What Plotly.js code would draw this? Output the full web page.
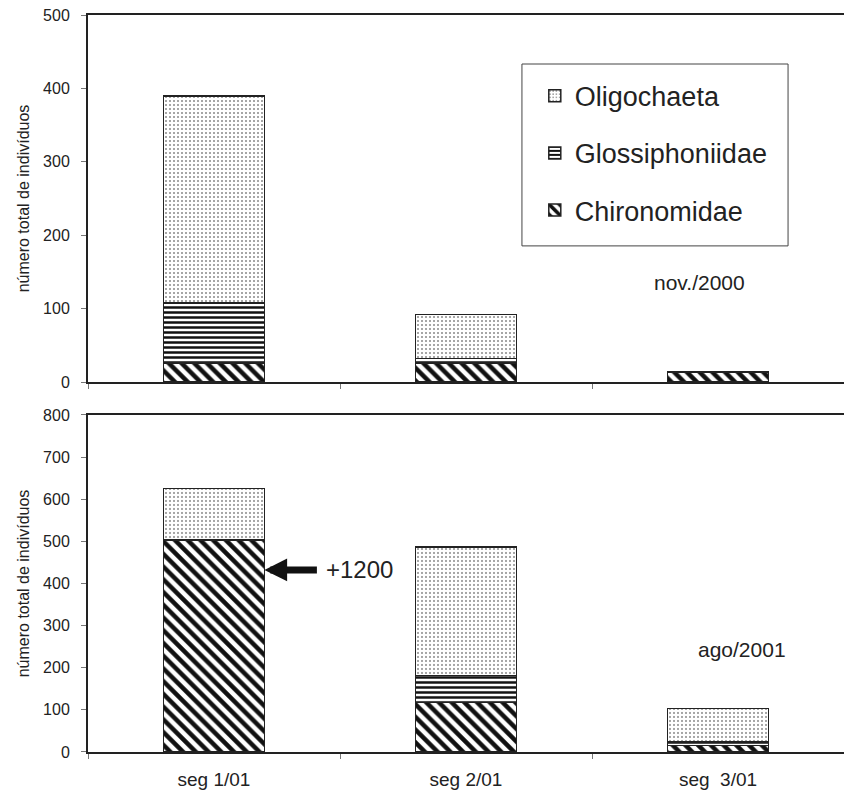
<!DOCTYPE html>
<html>
<head>
<meta charset="utf-8">
<script src="https://cdn.plot.ly/plotly-3.0.1.min.js"></script>
<style>html,body{margin:0;padding:0;background:#fff;}#chart{width:844px;height:797px;}</style>
</head>
<body>
<div id="chart"></div>
<script>
// ---- data ----
const categories = ["seg 1/01", "seg 2/01", "seg\u00a0\u00a03/01"];
const seriesNames = ["Chironomidae", "Glossiphoniidae", "Oligochaeta"];
// nov./2000 (top panel)
const nov2000_chironomidae   = [26, 26, 14];
const nov2000_glossiphoniidae = [82, 6, 0];
const nov2000_oligochaeta    = [282, 60, 0];
// ago/2001 (bottom panel)
const ago2001_chironomidae   = [503, 117, 16];
const ago2001_glossiphoniidae = [0, 64, 8];
const ago2001_oligochaeta    = [122, 305, 79];
const topTicks = [0, 100, 200, 300, 400, 500];
const bottomTicks = [0, 100, 200, 300, 400, 500, 600, 700, 800];
const panelLabels = ["nov./2000", "ago/2001"];
const noteLabel = "+1200";
const noteValue = 432;

// ---- styles ----
const patterns = {
  "Chironomidae":   {shape: "\\", size: 9, solidity: 0.5, fgcolor: "#111", bgcolor: "#fff", fgopacity: 1, fillmode: "overlay"},
  "Glossiphoniidae": {shape: "-", size: 5, solidity: 0.5, fgcolor: "#111", bgcolor: "#fff", fgopacity: 1, fillmode: "overlay"},
  "Oligochaeta":    {shape: ".", size: 4, solidity: 0.2, fgcolor: "#888", bgcolor: "#fff", fgopacity: 1, fillmode: "overlay"}
};
const ranks = {"Oligochaeta": 1, "Glossiphoniidae": 2, "Chironomidae": 3};
const lineStyle = {color: "#222", width: 1.5};
const font = "Liberation Sans, Arial, sans-serif";

function mk(name, y, xa, ya, showleg) {
  return {
    type: "bar", name: name, x: categories, y: y, xaxis: xa, yaxis: ya,
    width: 0.4, showlegend: showleg, legendgroup: name, legendrank: ranks[name],
    marker: {color: "#fff", pattern: patterns[name], line: lineStyle},
    hoverinfo: "x+y+name"
  };
}

const data = [
  mk("Chironomidae", nov2000_chironomidae, "x", "y", true),
  mk("Glossiphoniidae", nov2000_glossiphoniidae, "x", "y", true),
  mk("Oligochaeta", nov2000_oligochaeta, "x", "y", true),
  mk("Chironomidae", ago2001_chironomidae, "x2", "y2", false),
  mk("Glossiphoniidae", ago2001_glossiphoniidae, "x2", "y2", false),
  mk("Oligochaeta", ago2001_oligochaeta, "x2", "y2", false)
];

const axisX = {
  type: "category", range: [-0.5, 2.5], showgrid: false, zeroline: false,
  showline: true, linecolor: "#222", linewidth: 2, mirror: true,
  ticks: "outside", tickson: "boundaries", ticklen: 5, tickcolor: "#777", tickwidth: 1,
  tickfont: {family: font, size: 19, color: "#222"}
};
const axisY = {
  showgrid: false, zeroline: false, showline: true, linecolor: "#222", linewidth: 2,
  ticks: "outside", ticklen: 5, tickcolor: "#777", tickwidth: 1, ticklabelstandoff: 8,
  tickfont: {family: font, size: 16, color: "#222"},
  title: {text: "número total de indivíduos", font: {family: font, size: 16, color: "#222"}, standoff: 9}
};

const layout = {
  width: 844, height: 797,
  margin: {l: 88, r: 0, t: 15, b: 45},
  paper_bgcolor: "#fff", plot_bgcolor: "#fff",
  barmode: "stack",
  font: {family: font, color: "#222"},
  xaxis: Object.assign({}, axisX, {anchor: "y", showticklabels: false}),
  xaxis2: Object.assign({}, axisX, {anchor: "y2", ticklabelstandoff: 9}),
  yaxis: Object.assign({}, axisY, {domain: [0.502, 1], range: [0, 500], tickvals: topTicks, anchor: "x"}),
  yaxis2: Object.assign({}, axisY, {domain: [0, 0.4573], range: [0, 800], tickvals: bottomTicks, anchor: "x2"}),
  legend: {
    x: 0.591, y: 0.923, xanchor: "left", yanchor: "top",
    traceorder: "grouped", tracegroupgap: 19,
    font: {family: font, size: 27, color: "#222"},
    borderwidth: 0, bgcolor: "rgba(0,0,0,0)"
  },
  shapes: [{
    type: "rect", xref: "paper", yref: "paper",
    x0: 0.574, x1: 0.926, y0: 0.6867, y1: 0.9335,
    line: {color: "#444", width: 1}, fillcolor: "rgba(0,0,0,0)", layer: "below"
  }],
  annotations: [
    {text: panelLabels[0], xref: "x", yref: "y", x: 1.925, y: 135, showarrow: false,
     font: {family: font, size: 21, color: "#222"}, xanchor: "center"},
    {text: panelLabels[1], xref: "x2", yref: "y2", x: 2.097, y: 243, showarrow: false,
     font: {family: font, size: 21, color: "#222"}, xanchor: "center"},
    {text: "", xref: "x2", yref: "y2", x: 0.2, y: noteValue, showarrow: true,
     ax: 54, ay: 0, arrowhead: 2, arrowsize: 0.65, arrowwidth: 7, arrowcolor: "#111", standoff: 0},
    {text: noteLabel, xref: "x2", yref: "y2", x: 0.435, y: noteValue, showarrow: false,
     xanchor: "left", font: {family: font, size: 24, color: "#222"}}
  ]
};

Plotly.newPlot("chart", data, layout, {displayModeBar: false, staticPlot: true});
</script>
</body>
</html>
